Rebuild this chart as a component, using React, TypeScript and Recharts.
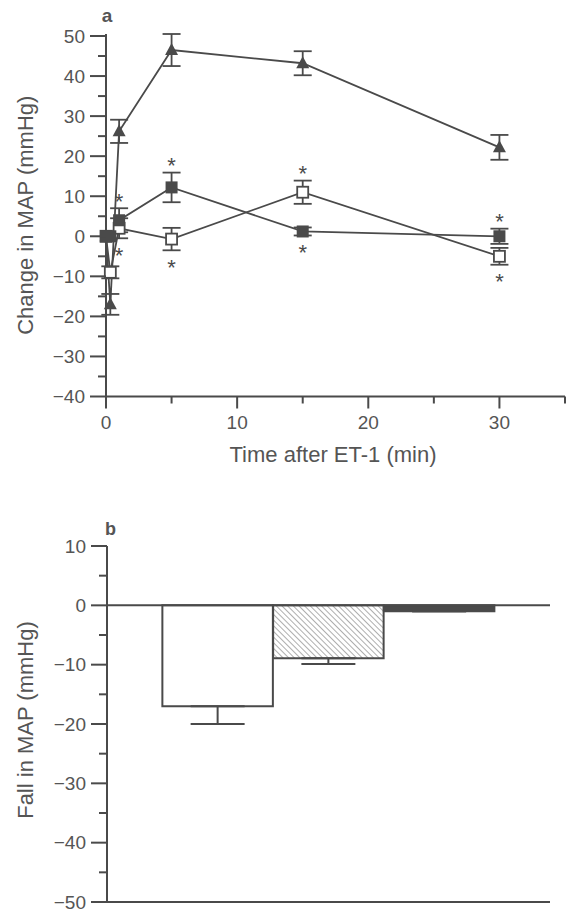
import React from "react";
import { Bar, Cell, ComposedChart, ErrorBar, Line, ReferenceLine, Scatter, XAxis, YAxis } from "recharts";

const INK = "#4a4a4a";
const TEXT = "#555";
const FONT = "'Liberation Sans', Arial, Helvetica, sans-serif";

// panel a: change in MAP (mmHg) after ET-1, three groups
const times = [0, 0.33, 1, 5, 15, 30];
const triMean = [0, -17, 26.2, 46.5, 43.2, 22.2];
const triSem = [0, 2.6, 2.9, 4, 3, 3.1];
const filledMean = [0, 0, 4, 12.2, 1.2, 0];
const filledSem = [0, 0, 3, 3.7, 1, 1.9];
const filledSig = [0, 0, 1, 1, -1, 1]; // 1 = asterisk above, -1 = below
const openMean = [0, -9, 2, -0.7, 11, -5];
const openSem = [0, 1.5, 2.5, 2.8, 2.9, 2.1];
const openSig = [0, 0, -1, -1, 1, -1];

const yTicksA = [-40, -35, -30, -25, -20, -15, -10, -5, 0, 5, 10, 15, 20, 25, 30, 35, 40, 45, 50];
const xTicksA = [0, 5, 10, 15, 20, 25, 30, 35];

// panel b: fall in MAP
const groups = [1, 2, 3];
const fallMean = [-17, -8.9, -1];
const fallSem = [3, 1, 0];
const yTicksB = [-50, -45, -40, -35, -30, -25, -20, -15, -10, -5, 0, 5, 10];

const build = (mean: number[], sem: number[], sig?: number[]) =>
  times.map((t, i) => ({ t, v: mean[i], err: sem[i], sig: sig ? sig[i] : 0 }));

const triData = build(triMean, triSem);
const filledData = build(filledMean, filledSem, filledSig);
const openData = build(openMean, openSem, openSig);
const starData = [...filledData, ...openData]
  .filter((d) => d.sig !== 0)
  .map((d) => ({ t: d.t, y: d.v + d.sig * d.err, sig: d.sig }));

const barData = groups.map((g, i) => ({ g, v: fallMean[i], err: [fallSem[i], 0] }));
const barFills = ["#ffffff", "url(#hatch)", INK];

const fmt = (v: number) => (v < 0 ? `\u2212${Math.abs(v)}` : `${v}`);

function YTick(props: any) {
  const { x, y, payload } = props;
  const major = payload.value % 10 === 0;
  return (
    <g>
      <line x1={x - (major ? 16 : 8)} x2={x} y1={y} y2={y} stroke={INK} strokeWidth={2} />
      {major && (
        <text x={x - 21} y={y + 6.8} textAnchor="end" fontSize={19} fill={TEXT} fontFamily={FONT}>
          {fmt(payload.value)}
        </text>
      )}
    </g>
  );
}

function XTick(props: any) {
  const { x, y, payload } = props;
  const major = payload.value % 10 === 0;
  return (
    <g>
      <line x1={x} x2={x} y1={y} y2={y + (major ? 12 : 7)} stroke={INK} strokeWidth={2} />
      {major && payload.value <= 30 && (
        <text x={x} y={y + 32} textAnchor="middle" fontSize={19} fill={TEXT} fontFamily={FONT}>
          {payload.value}
        </text>
      )}
    </g>
  );
}

const yTitle = (text: string, shift = 0) => (props: any) => {
  const vb = props.viewBox || { x: 0, y: 0, height: 0 };
  const cx = vb.x + 25;
  const cy = vb.y + vb.height / 2 + shift;
  return (
    <text x={cx} y={cy} transform={`rotate(-90 ${cx} ${cy})`} textAnchor="middle" dominantBaseline="central" fontSize={22} fill={TEXT} fontFamily={FONT}>
      {text}
    </text>
  );
};

const xTitle = (text: string) => (props: any) => {
  const vb = props.viewBox || { x: 0, y: 0, width: 0 };
  const cx = vb.x + vb.width / 2 - 2.5;
  const cy = vb.y + 57.5;
  return (
    <text x={cx} y={cy} textAnchor="middle" dominantBaseline="central" fontSize={22} fill={TEXT} fontFamily={FONT}>
      {text}
    </text>
  );
};

function Marker(props: any) {
  const { cx, cy, kind } = props;
  if (cx == null || cy == null) return null;
  if (kind === "tri") return <path d={`M${cx},${cy - 7} L${cx + 6.5},${cy + 5} L${cx - 6.5},${cy + 5} Z`} fill={INK} />;
  if (kind === "filled") return <rect x={cx - 6} y={cy - 6} width={12} height={12} fill={INK} />;
  return <rect x={cx - 5.5} y={cy - 5.5} width={11} height={11} fill="#fff" stroke={INK} strokeWidth={1.8} />;
}

function Star(props: any) {
  const { cx, cy, payload } = props;
  const c = cy + (payload.sig > 0 ? -12 : 12);
  return (
    <text x={cx} y={c + 12.5} textAnchor="middle" fontSize={22} fill={INK} fontFamily={FONT}>
      *
    </text>
  );
}

export default function App() {
  return (
    <div style={{ position: "absolute", left: 0, top: 0, width: 571, height: 912, background: "#fff" }}>
      <div style={{ position: "absolute", left: 0, top: 0 }}>
        <ComposedChart width={571} height={470} margin={{ top: 34, right: 6, bottom: 0, left: 0 }}>
          <XAxis
            type="number"
            dataKey="t"
            domain={[0, 35]}
            ticks={xTicksA}
            interval={0}
            height={73.5}
            tickSize={0}
            tickMargin={0}
            tickLine={false}
            axisLine={{ stroke: INK, strokeWidth: 2 }}
            tick={<XTick />}
            label={xTitle("Time after ET-1 (min)")}
          />
          <YAxis
            type="number"
            domain={[-40, 50]}
            ticks={yTicksA}
            interval={0}
            width={106}
            tickSize={0}
            tickMargin={0}
            tickLine={false}
            axisLine={{ stroke: INK, strokeWidth: 2 }}
            tick={<YTick />}
            label={yTitle("Change in MAP (mmHg)")}
          />
          <Line data={triData} dataKey="v" stroke={INK} strokeWidth={1.8} isAnimationActive={false}
            dot={(p: any) => <Marker key={`tri-${p.index}`} {...p} kind="tri" />}>
            <ErrorBar dataKey="err" width={9} stroke={INK} strokeWidth={1.8} direction="y" />
          </Line>
          <Line data={openData} dataKey="v" stroke={INK} strokeWidth={1.8} isAnimationActive={false}
            dot={(p: any) => <Marker key={`open-${p.index}`} {...p} kind="open" />}>
            <ErrorBar dataKey="err" width={9} stroke={INK} strokeWidth={1.8} direction="y" />
          </Line>
          <Line data={filledData} dataKey="v" stroke={INK} strokeWidth={1.8} isAnimationActive={false}
            dot={(p: any) => <Marker key={`filled-${p.index}`} {...p} kind="filled" />}>
            <ErrorBar dataKey="err" width={9} stroke={INK} strokeWidth={1.8} direction="y" />
          </Line>
          <Scatter data={starData} dataKey="y" shape={<Star />} isAnimationActive={false} />
          <text x={107} y={21.5} textAnchor="middle" fontSize={19} fontWeight="bold" fill={TEXT} fontFamily={FONT}>
            a
          </text>
        </ComposedChart>
      </div>
      <div style={{ position: "absolute", left: 0, top: 500 }}>
        <ComposedChart width={571} height={412} data={barData} margin={{ top: 46, right: 21, bottom: 0, left: 0 }}>
          <defs>
            <pattern id="hatch" patternUnits="userSpaceOnUse" width={4} height={4} patternTransform="rotate(-45)">
              <line x1={0} y1={0} x2={0} y2={4} stroke="#777" strokeWidth={1.2} />
            </pattern>
          </defs>
          <XAxis
            type="number"
            dataKey="g"
            domain={[0, 4]}
            height={10}
            tick={false}
            tickLine={false}
            axisLine={{ stroke: INK, strokeWidth: 2 }}
          />
          <YAxis
            type="number"
            domain={[-50, 10]}
            ticks={yTicksB}
            interval={0}
            width={107}
            tickSize={0}
            tickMargin={0}
            tickLine={false}
            axisLine={{ stroke: INK, strokeWidth: 2 }}
            tick={<YTick />}
            label={yTitle("Fall in MAP (mmHg)", -4)}
          />
          <Bar dataKey="v" barSize={110.5} stroke={INK} strokeWidth={2} isAnimationActive={false}>
            {barData.map((d, i) => (
              <Cell key={d.g} fill={barFills[i]} />
            ))}
            <ErrorBar dataKey="err" width={27} stroke={INK} strokeWidth={2} direction="y" />
          </Bar>
          <ReferenceLine y={0} stroke={INK} strokeWidth={2} />
          <text x={105} y={35} textAnchor="start" fontSize={18} fontWeight="bold" fill={TEXT} fontFamily={FONT}>
            b
          </text>
        </ComposedChart>
      </div>
    </div>
  );
}
